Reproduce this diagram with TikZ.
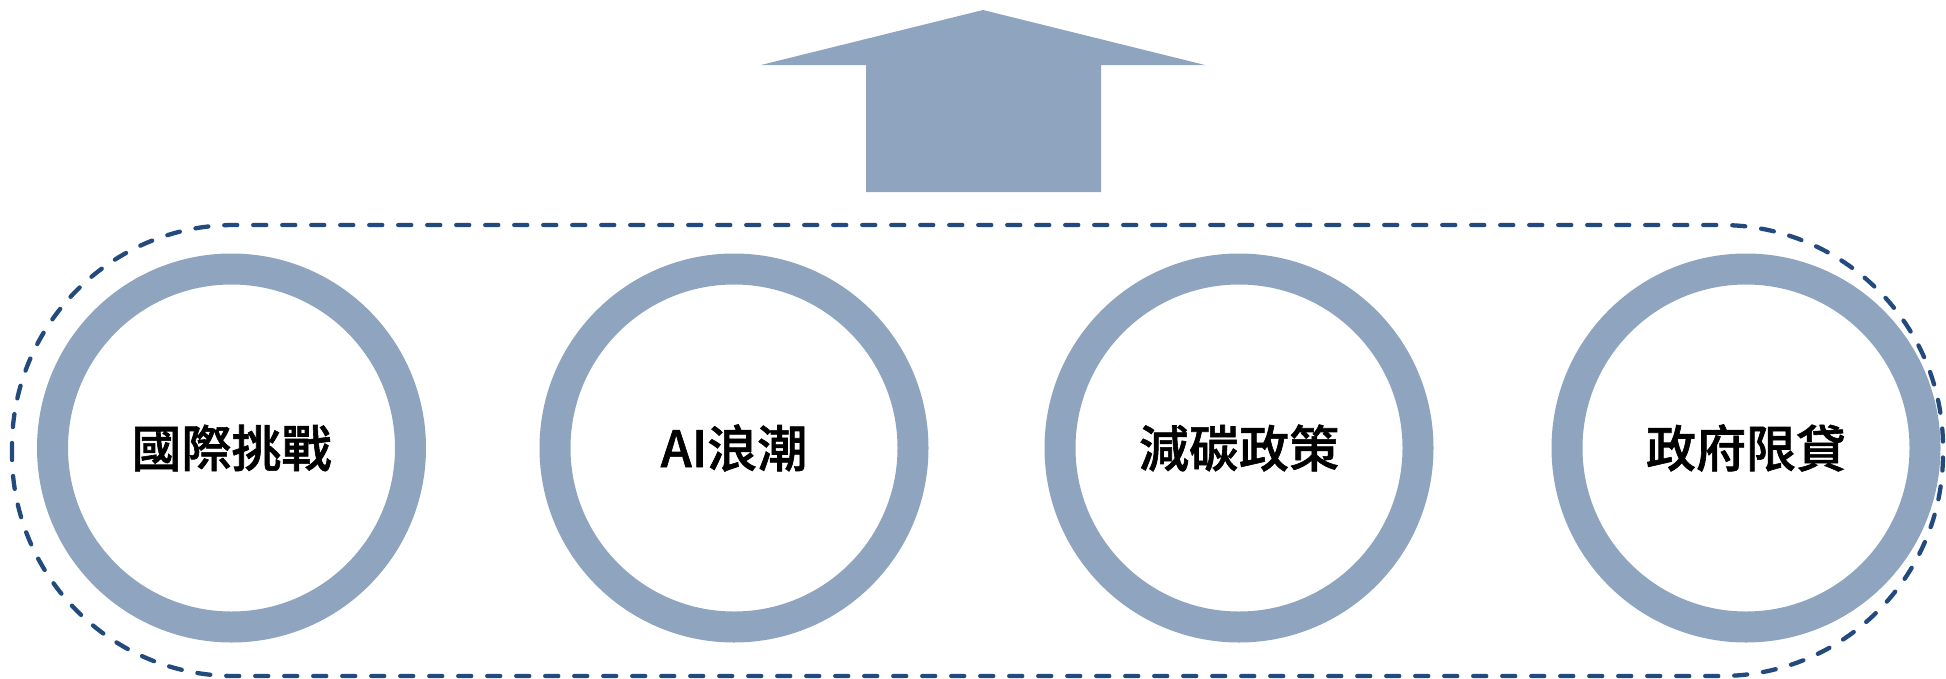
\documentclass[tikz,border=0pt]{standalone}
\usepackage{fontspec}
\setmainfont{Noto Sans CJK TC}[UprightFont=* Medium,BoldFont=* Bold]
\newfontfamily\labelfont{Noto Sans CJK TC}[UprightFont=* Medium,FakeBold=1.2,UprightFeatures={FakeBold=1.2}]
\definecolor{ringcol}{HTML}{8FA4BF}
\definecolor{dashcol}{HTML}{234A7C}
\begin{document}
\begin{tikzpicture}[x=1pt,y=-1pt,
  ring/.style={circle,draw=ringcol,line width=31pt,minimum size=358pt,inner sep=0pt,
    font=\labelfont\fontsize{50}{60}\selectfont},
  frame/.style={draw=dashcol,line width=4.3pt,line cap=round,dash pattern=on 13pt off 16pt,rounded corners=222pt},
  bigarrow/.style={fill=ringcol,draw=none}]
\useasboundingbox (0,0) rectangle (1946,678);
\draw[frame] (12,225) rectangle (1943,676);
\node[ring] (c1) at (231.5,448) {國際挑戰};
\node[ring] (c2) at (734,448) {AI浪潮};
\node[ring] (c3) at (1239,448) {減碳政策};
\node[ring] (c4) at (1746,448) {政府限貸};
\fill[bigarrow] (983,10) -- (1205,65) -- (1101,65) -- (1101,192) -- (866,192) -- (866,65) -- (761,65) -- cycle;
\end{tikzpicture}
\end{document}
